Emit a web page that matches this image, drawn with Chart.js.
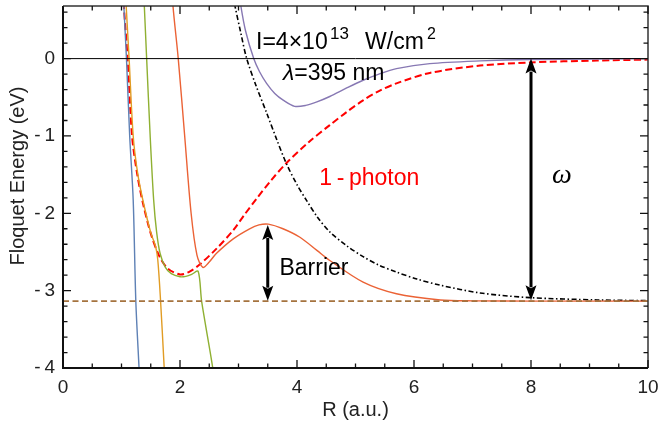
<!DOCTYPE html>
<html><head><meta charset="utf-8">
<script src="https://cdn.jsdelivr.net/npm/chart.js@4/dist/chart.umd.min.js"></script>
<style>html,body{margin:0;padding:0;background:#fff}</style>
</head><body>
<canvas id="c" width="659" height="427" style="width:659px;height:427px;display:block"></canvas>
<script>
// ---- tick labels ----
const xTickValues = [0, 2, 4, 6, 8, 10];
const xTickLabels = ['0', '2', '4', '6', '8', '10'];
const yTickValues = [0, -1, -2, -3, -4];
const yTickLabels = ['0', '-\u20091', '-\u20092', '-\u20093', '-\u20094'];

// ---- series (R in a.u., energy in eV) ----
const blueCurve = [[1.02,1.0],[1.04,0.68],[1.085,0],[1.14,-1.0],[1.2,-1.83],[1.245,-3.14],[1.3,-4.0],[1.32,-4.3]];
const orangeCurve = [[1.06,1.0],[1.08,0.68],[1.13,0],[1.2,-1.0],[1.28,-1.5],[1.38,-1.88],[1.5,-2.25],[1.58,-2.42],[1.62,-2.6],[1.667,-3.12],[1.73,-4.0],[1.75,-4.3]];
const greenCurve = [[1.37,1.0],[1.39,0.68],[1.43,0],[1.49,-1.0],[1.55,-1.83],[1.6,-2.24],[1.66,-2.52],[1.75,-2.7],[1.85,-2.78],[2.0,-2.82],[2.1,-2.815],[2.2,-2.79],[2.31,-2.75],[2.37,-3.14],[2.56,-4.0],[2.6,-4.3]];
const redOrangeCurve = [[1.86,1.0],[1.88,0.68],[1.97,0],[2.08,-1.0],[2.19,-2.0],[2.29,-2.54],[2.39,-2.7],[2.5,-2.63],[2.62,-2.52],[2.91,-2.33],[3.19,-2.2],[3.35,-2.15],[3.51,-2.14],[3.76,-2.2],[4.05,-2.31],[4.34,-2.48],[4.56,-2.61],[5.13,-2.89],[5.7,-3.04],[6.45,-3.12],[7.0,-3.132],[8.0,-3.135],[10.0,-3.135]];
const purpleCurve = [[2.98,1.0],[3.04,0.68],[3.12,0.36],[3.26,0],[3.36,-0.17],[3.48,-0.32],[3.62,-0.45],[3.77,-0.54],[3.96,-0.617],[4.15,-0.605],[4.34,-0.56],[4.56,-0.49],[4.85,-0.38],[5.13,-0.28],[5.4,-0.2],[5.7,-0.13],[6.27,-0.065],[7.13,-0.03],[8.0,-0.012],[10.0,0]];
const onePhotonCurve = [[1.02,1.0],[1.04,0.68],[1.105,0],[1.18,-1.0],[1.27,-1.5],[1.37,-1.88],[1.5,-2.26],[1.65,-2.56],[1.8,-2.72],[2.0,-2.79],[2.15,-2.76],[2.34,-2.66],[2.62,-2.46],[2.91,-2.22],[3.1,-2.02],[3.31,-1.81],[3.55,-1.58],[3.82,-1.35],[4.2,-1.08],[4.56,-0.86],[4.85,-0.69],[5.13,-0.54],[5.4,-0.42],[5.7,-0.32],[6.27,-0.185],[7.13,-0.09],[7.98,-0.05],[9.13,-0.025],[10.0,-0.013]];
const zeroPhotonCurve = [[2.86,1.0],[2.94,0.68],[3.04,0.33],[3.14,0],[3.3,-0.35],[3.48,-0.7],[3.65,-1.04],[3.82,-1.36],[4.0,-1.63],[4.16,-1.83],[4.35,-2.05],[4.56,-2.24],[4.85,-2.42],[5.13,-2.56],[5.4,-2.67],[5.7,-2.76],[6.05,-2.85],[6.45,-2.93],[7.13,-3.03],[7.98,-3.09],[9.13,-3.12],[10.0,-3.13]];
const thresholdLine = [[0,-3.135],[10,-3.135]];
const zeroLine = [[0,0],[10,0]];

// ---- arrows: x, top, bottom (data units) ----
const arrowX = [3.5, 8.0];
const arrowTop = [-2.15, 0.0];
const arrowBottom = [-3.13, -3.125];

const toXY = a => a.map(p => ({x: p[0], y: p[1]}));

function ds(data, color, width, dash, tension) {
  return {
    data: toXY(data), borderColor: color, borderWidth: width, borderDash: dash || [],
    showLine: true, pointRadius: 0, fill: false,
    tension: tension || 0
  };
}

const annotations = {
  id: 'annotations',
  afterDraw(chart) {
    const ctx = chart.ctx;
    const xs = chart.scales.x, ys = chart.scales.y;
    const L = chart.chartArea.left, R = chart.chartArea.right, T = chart.chartArea.top, B = chart.chartArea.bottom;
    ctx.save();
    // frame
    ctx.strokeStyle = '#111';
    ctx.lineWidth = 2;
    ctx.beginPath(); ctx.moveTo(L, T); ctx.lineTo(L, B); ctx.lineTo(R, B); ctx.stroke();
    ctx.strokeStyle = '#333'; ctx.lineWidth = 1.5;
    ctx.beginPath(); ctx.moveTo(L, T); ctx.lineTo(R, T); ctx.lineTo(R, B); ctx.stroke();
    // ticks
    ctx.strokeStyle = '#111'; ctx.lineWidth = 1.3;
    ctx.beginPath();
    for (let v = 0; v <= 10.001; v += 0.5) {
      const p = xs.getPixelForValue(v);
      const major = Math.abs(v / 2 - Math.round(v / 2)) < 1e-6;
      const len = major ? 8 : 4.5;
      ctx.moveTo(p, B); ctx.lineTo(p, B - len);
      ctx.moveTo(p, T); ctx.lineTo(p, T + len);
    }
    for (let i = 0; i <= 23; i++) {
      const v = -4 + i * 0.2;
      const p = ys.getPixelForValue(v);
      const major = Math.abs(v - Math.round(v)) < 1e-6;
      const len = major ? 8 : 4.5;
      ctx.moveTo(L, p); ctx.lineTo(L + len, p);
      ctx.moveTo(R, p); ctx.lineTo(R - len, p);
    }
    ctx.stroke();

    // arrows
    ctx.fillStyle = '#000'; ctx.strokeStyle = '#000';
    for (let i = 0; i < arrowX.length; i++) {
      const x = xs.getPixelForValue(arrowX[i]);
      const y1 = ys.getPixelForValue(arrowTop[i]);
      const y2 = ys.getPixelForValue(arrowBottom[i]);
      const hl = 15, hw = 5.5;
      ctx.lineWidth = 3;
      ctx.beginPath(); ctx.moveTo(x, y1 + hl - 2); ctx.lineTo(x, y2 - hl + 2); ctx.stroke();
      ctx.beginPath(); ctx.moveTo(x, y1); ctx.lineTo(x - hw, y1 + hl); ctx.lineTo(x, y1 + hl - 3); ctx.lineTo(x + hw, y1 + hl); ctx.closePath(); ctx.fill();
      ctx.beginPath(); ctx.moveTo(x, y2); ctx.lineTo(x - hw, y2 - hl); ctx.lineTo(x, y2 - hl + 3); ctx.lineTo(x + hw, y2 - hl); ctx.closePath(); ctx.fill();
    }

    // texts
    const F = 'Liberation Sans, Arial, sans-serif';
    ctx.textBaseline = 'alphabetic'; ctx.textAlign = 'left';
    const x0 = xs.getPixelForValue(3.30), y0 = ys.getPixelForValue(0.129);
    const parts = [['I=4\u00d710', 23, 0, 0], ['13', 17, -10, 74], ['W/cm', 23, 0, 109], ['2', 16, -10, 171]];
    ctx.fillStyle = '#000';
    for (const [t, s, dy, dx] of parts) {
      ctx.font = s + 'px ' + F;
      ctx.fillText(t, x0 + dx, y0 + dy);
    }
    let x = xs.getPixelForValue(3.76), y = ys.getPixelForValue(-0.28);
    ctx.font = 'italic 23px ' + F; ctx.fillText('\u03bb', x, y);
    x += ctx.measureText('\u03bb').width;
    ctx.font = '23px ' + F; ctx.fillText('=395 nm', x, y);
    ctx.fillStyle = '#ff0000';
    ctx.font = '23px ' + F;
    ctx.fillText('1\u2009-\u2009photon', xs.getPixelForValue(4.38), ys.getPixelForValue(-1.64));
    ctx.fillStyle = '#000';
    ctx.font = 'italic 28px Liberation Serif, serif';
    ctx.fillText('\u03c9', xs.getPixelForValue(8.36), ys.getPixelForValue(-1.61));
    ctx.font = '23px ' + F;
    ctx.fillText('Barrier', xs.getPixelForValue(3.70), ys.getPixelForValue(-2.80));
    ctx.save();
    ctx.translate(18.5, 176);
    ctx.rotate(-Math.PI / 2);
    ctx.textAlign = 'center'; ctx.textBaseline = 'middle';
    ctx.font = '20px ' + F;
    ctx.fillStyle = '#222';
    ctx.fillText('Floquet Energy (eV)', 0, 0);
    ctx.restore();
    ctx.restore();
  }
};

new Chart(document.getElementById('c'), {
  type: 'scatter',
  data: {
    datasets: [
      ds(zeroLine, '#000', 1, []),
      ds(thresholdLine, '#A5733F', 1.8, [6, 3.5]),
      ds(blueCurve, '#5E81B5', 1.4, [], 0.3),
      ds(orangeCurve, '#E19C24', 1.4, [], 0.3),
      ds(greenCurve, '#8FB032', 1.4, [], 0.3),
      ds(redOrangeCurve, '#EB6235', 1.4, [], 0.3),
      ds(purpleCurve, '#8778B3', 1.4, [], 0.3),
      ds(zeroPhotonCurve, '#000', 1.6, [5, 2.5, 1.5, 2.5], 0.3),
      ds(onePhotonCurve, '#FF0000', 2, [7, 3.5], 0.3)
    ]
  },
  options: {
    responsive: false, animation: false, devicePixelRatio: 1,
    layout: { padding: { top: 6, right: 11, left: 0, bottom: 0 } },
    plugins: { legend: { display: false }, tooltip: { enabled: false } },
    scales: {
      x: {
        type: 'linear', min: 0, max: 10,
        afterFit(s) { s.height = 59; s.paddingLeft = 0; s.paddingRight = 0; },
        afterBuildTicks(s) { s.ticks = xTickValues.map(v => ({ value: v })); },
        grid: { display: false, drawTicks: false },
        border: { display: false },
        ticks: {
          padding: 8, color: '#222', font: { size: 19, family: 'Liberation Sans, Arial, sans-serif' },
          maxRotation: 0, autoSkip: false,
          callback(v) { const i = xTickValues.indexOf(v); return i >= 0 ? xTickLabels[i] : ''; }
        },
        title: { display: true, text: 'R (a.u.)', color: '#222', font: { size: 20, family: 'Liberation Sans, Arial, sans-serif' }, padding: { top: 0, bottom: 5 } }
      },
      y: {
        type: 'linear', min: -4, max: 0.68,
        afterFit(s) { s.width = 63; s.paddingTop = 0; s.paddingBottom = 0; },
        afterBuildTicks(s) { s.ticks = yTickValues.map(v => ({ value: v })); },
        grid: { display: false, drawTicks: false },
        border: { display: false },
        ticks: {
          padding: 8, color: '#222', font: { size: 19, family: 'Liberation Sans, Arial, sans-serif' },
          autoSkip: false,
          callback(v) { const i = yTickValues.indexOf(v); return i >= 0 ? yTickLabels[i] : ''; }
        }
      }
    }
  },
  plugins: [annotations]
});
</script>
</body></html>
